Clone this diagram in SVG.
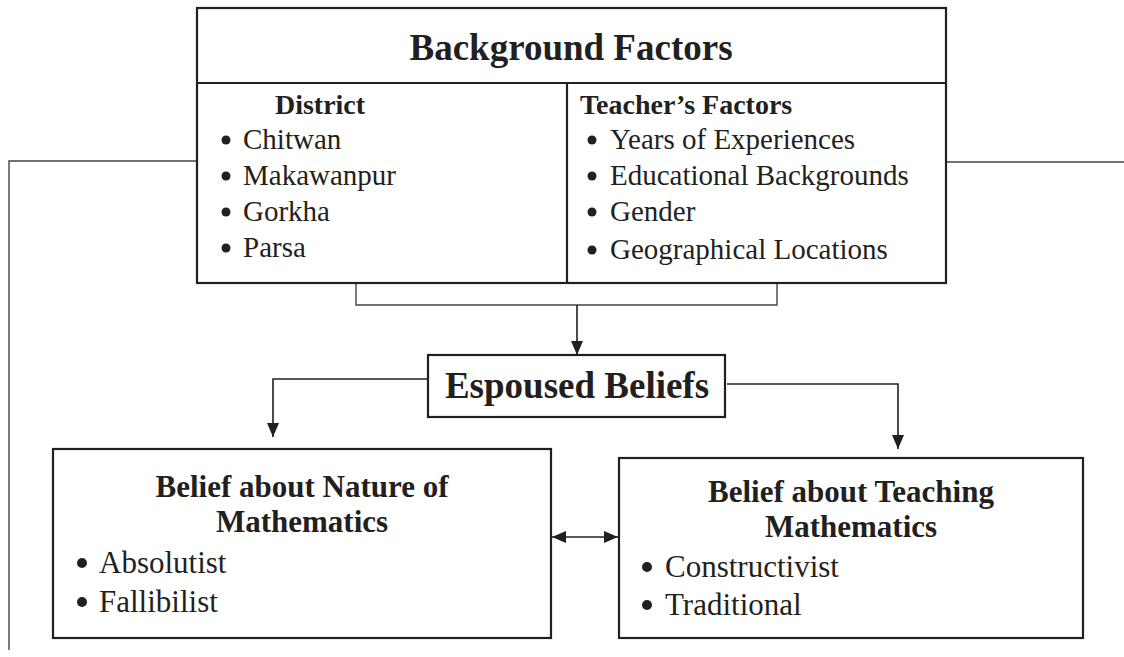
<svg xmlns="http://www.w3.org/2000/svg" width="1124" height="657" viewBox="0 0 1124 657">
<defs>
<marker id="ah" viewBox="0 0 14 12" refX="14" refY="6" markerWidth="14" markerHeight="12" markerUnits="userSpaceOnUse" orient="auto-start-reverse">
<path d="M0,0 L14,6 L0,12 z" fill="#231f20"/>
</marker>
<style>
.box{fill:#fff;stroke:#231f20;stroke-width:2.2}
.ln{fill:none;stroke:#231f20;stroke-width:1.6}
.thin{fill:none;stroke:#444;stroke-width:1.4}
.t{font-family:"Liberation Serif","Times New Roman",serif;fill:#231f20}
.b{font-weight:bold}
.li{font-size:29px}
.hd{font-size:28px;font-weight:bold}
.bx{font-size:31px}
.dot{fill:#231f20}
</style>
</defs>
<rect width="1124" height="657" fill="#fff"/>
<g id="connectors">
<path class="thin" d="M196,161 H9 V650"/>
<path class="thin" d="M946,162 H1124"/>
<path class="thin" d="M356,283 V305 H777 V283"/>
<line class="ln" x1="577" y1="305" x2="577" y2="355" marker-end="url(#ah)"/>
<path class="ln" d="M427,379 H273 V437" marker-end="url(#ah)"/>
<path class="ln" d="M727,384 H898 V449" marker-end="url(#ah)"/>
<line class="ln" x1="552" y1="537" x2="618" y2="537" marker-start="url(#ah)" marker-end="url(#ah)"/>
</g>
<g id="background-factors">
<rect class="box" x="197" y="8" width="749" height="275"/>
<line class="box" x1="197" y1="83" x2="946" y2="83"/>
<line class="box" x1="567" y1="83" x2="567" y2="283"/>
<text class="t b" x="571" y="60" font-size="37" text-anchor="middle">Background Factors</text>
<text class="t hd" x="320" y="114" text-anchor="middle">District</text>
<circle class="dot" cx="226" cy="140" r="4.5"/><text class="t li" x="243" y="149">Chitwan</text>
<circle class="dot" cx="226" cy="176" r="4.5"/><text class="t li" x="243" y="185">Makawanpur</text>
<circle class="dot" cx="226" cy="212" r="4.5"/><text class="t li" x="243" y="221">Gorkha</text>
<circle class="dot" cx="226" cy="248" r="4.5"/><text class="t li" x="243" y="257">Parsa</text>
<text class="t hd" x="580" y="114">Teacher’s Factors</text>
<circle class="dot" cx="592" cy="140" r="4.5"/><text class="t li" x="610" y="149">Years of Experiences</text>
<circle class="dot" cx="592" cy="176" r="4.5"/><text class="t li" x="610" y="185">Educational Backgrounds</text>
<circle class="dot" cx="592" cy="212" r="4.5"/><text class="t li" x="610" y="221">Gender</text>
<circle class="dot" cx="592" cy="250" r="4.5"/><text class="t li" x="610" y="259">Geographical Locations</text>
</g>
<g id="espoused-beliefs">
<rect class="box" x="428" y="355" width="297" height="62"/>
<text class="t b" x="577" y="398" font-size="37" text-anchor="middle">Espoused Beliefs</text>
</g>
<g id="nature-of-mathematics">
<rect class="box" x="53" y="449" width="498" height="189"/>
<text class="t b bx" x="302" y="497" text-anchor="middle">Belief about Nature of</text>
<text class="t b bx" x="302" y="532" text-anchor="middle">Mathematics</text>
<circle class="dot" cx="82" cy="563" r="5"/><text class="t bx" x="99" y="573">Absolutist</text>
<circle class="dot" cx="82" cy="602" r="5"/><text class="t bx" x="99" y="612">Fallibilist</text>
</g>
<g id="teaching-mathematics">
<rect class="box" x="619" y="458" width="464" height="180"/>
<text class="t b bx" x="851" y="502" text-anchor="middle">Belief about Teaching</text>
<text class="t b bx" x="851" y="537" text-anchor="middle">Mathematics</text>
<circle class="dot" cx="647" cy="567" r="5"/><text class="t bx" x="665" y="577">Constructivist</text>
<circle class="dot" cx="647" cy="605" r="5"/><text class="t bx" x="665" y="615">Traditional</text>
</g>
</svg>
